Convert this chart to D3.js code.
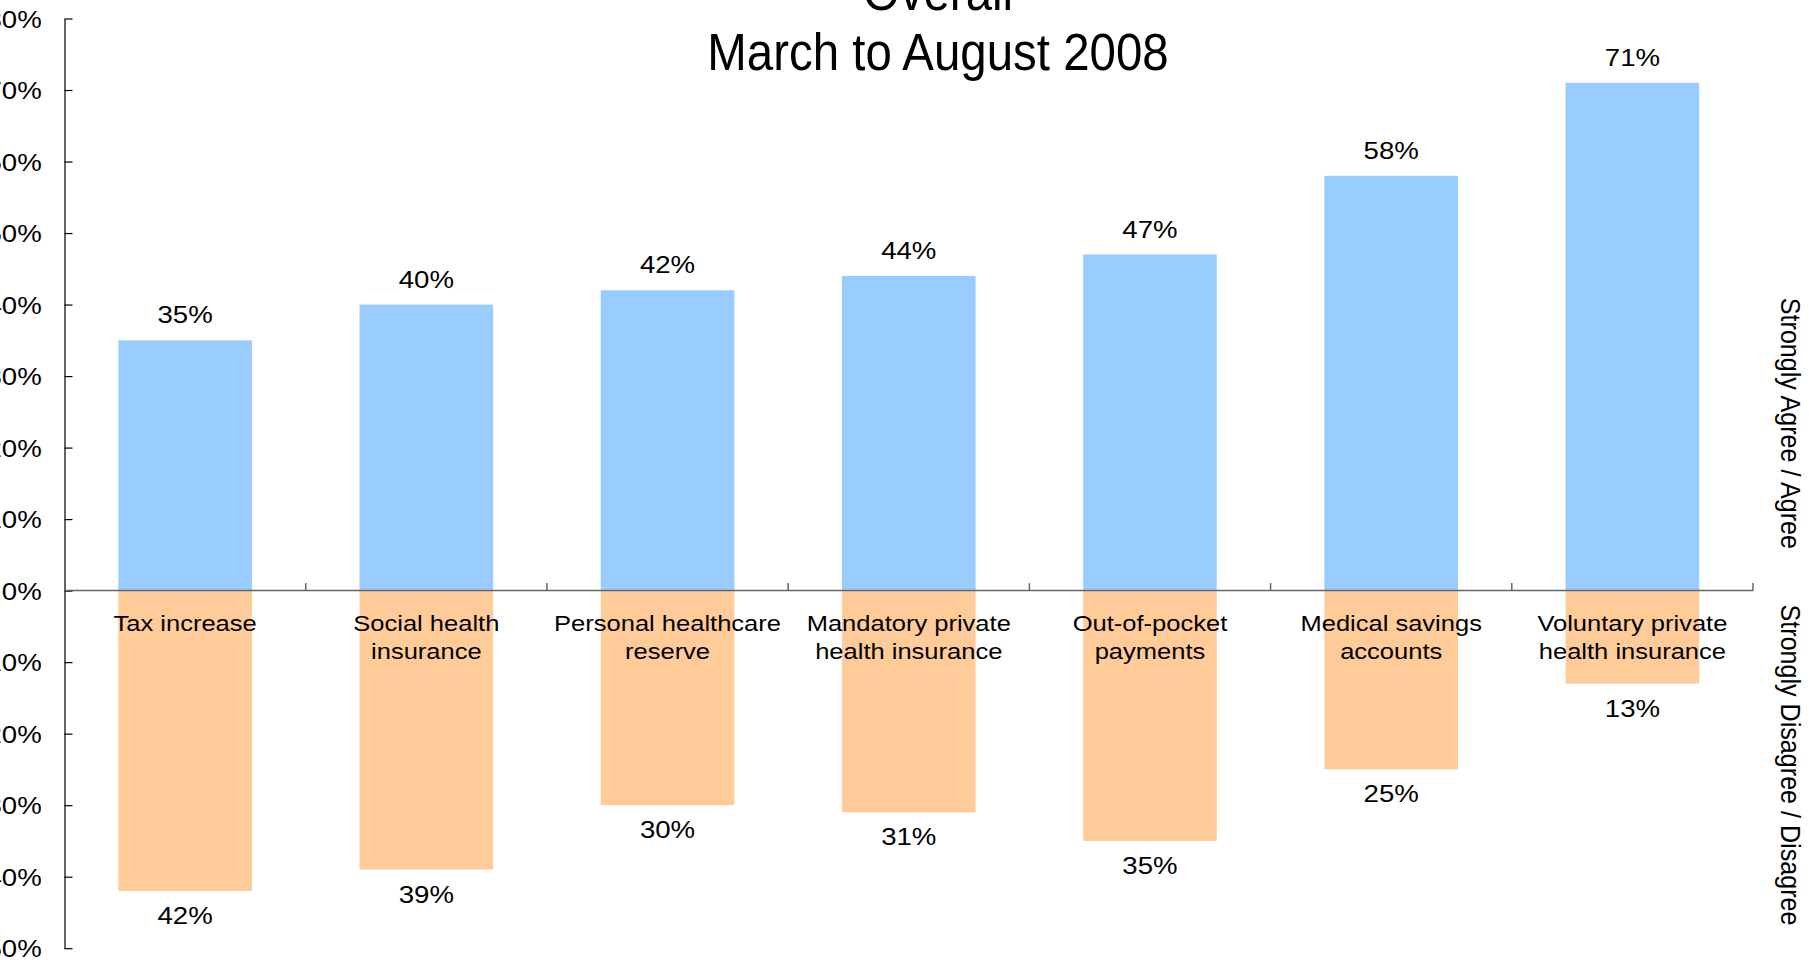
<!DOCTYPE html>
<html>
<head>
<meta charset="utf-8">
<script src="https://cdn.jsdelivr.net/npm/d3@7"></script>
<style>
	html, body { margin: 0; padding: 0; background: #fff; overflow: hidden; }
	#chart { width: 1809px; height: 960px; }
	text { font-family: 'Liberation Sans', Arial, sans-serif; fill: #000; }
</style>
</head>
<body>
<div id="chart"></div>
<script>
//data
const categories = [
	['Tax increase'],
	['Social health', 'insurance'],
	['Personal healthcare', 'reserve'],
	['Mandatory private', 'health insurance'],
	['Out-of-pocket', 'payments'],
	['Medical savings', 'accounts'],
	['Voluntary private', 'health insurance'],
];
const agreeValues = [35, 40, 42, 44, 47, 58, 71];
const disagreeValues = [42, 39, 30, 31, 35, 25, 13];
const yTicks = [-50, -40, -30, -20, -10, 0, 10, 20, 30, 40, 50, 60, 70, 80];
const titleLines = ['Overall', 'March to August 2008'];
const sideLabels = ['Strongly Agree / Agree', 'Strongly Disagree / Disagree'];

render();

function render() {
	let props = {
		width: 1809,
		height: 960,
		left: 64.5,
		right: 1753,
		top: 18.5,
		bottom: 948.2,
		agreeColor: '#99ccff',
		disagreeColor: '#ffcc99',
	};
	createVisualization(d3.select('#chart'), props);
}

function createVisualization(container, props) {
	let { width, height, left, right, top, bottom, agreeColor, disagreeColor } = props;

	const keys = categories.map((d) => d.join(' '));

	const x = d3
		.scaleBand()
		.domain(keys)
		.range([left, right])
		.paddingInner(0.446)
		.paddingOuter(0.223);

	const y = d3
		.scaleLinear()
		.domain([d3.min(yTicks), d3.max(yTicks)])
		.range([bottom, top]);

	const svg = container
		.append('svg')
		.attr('width', width)
		.attr('height', height);

	//bars
	svg.selectAll('.agree-bar')
		.data(agreeValues)
		.enter()
		.append('rect')
		.attr('class', 'agree-bar')
		.attr('x', (d, i) => x(keys[i]))
		.attr('y', (d) => y(d))
		.attr('width', x.bandwidth())
		.attr('height', (d) => y(0) - y(d))
		.style('fill', agreeColor);

	svg.selectAll('.disagree-bar')
		.data(disagreeValues)
		.enter()
		.append('rect')
		.attr('class', 'disagree-bar')
		.attr('x', (d, i) => x(keys[i]))
		.attr('y', y(0))
		.attr('width', x.bandwidth())
		.attr('height', (d) => y(-d) - y(0))
		.style('fill', disagreeColor);

	//y axis
	const yAxis = d3
		.axisLeft(y)
		.tickValues(yTicks)
		.tickSizeInner(-8)
		.tickSizeOuter(0)
		.tickPadding(0)
		.tickFormat((d) => Math.abs(d) + '%');

	const axisG = svg
		.append('g')
		.attr('class', 'y-axis')
		.attr('transform', translation(left, 0))
		.call(yAxis);
	axisG.select('.domain').style('stroke', '#000').style('stroke-width', 1.2);
	axisG.selectAll('.tick line').style('stroke', '#000').style('stroke-width', 1.2);
	axisG
		.selectAll('.tick text')
		.attr('x', -22.8 / 1.15)
		.attr('dy', '0.36em')
		.attr('transform', 'scale(1.15,1)')
		.style('font-size', '24px')
		.style('font-family', "'Liberation Sans', Arial, sans-serif")
		.style('fill', '#000');

	//zero line
	svg.append('line')
		.attr('x1', left)
		.attr('x2', right)
		.attr('y1', y(0))
		.attr('y2', y(0))
		.style('stroke', '#666')
		.style('stroke-width', 1.5);

	//category ticks
	const step = x.step();
	const halfGap = (step * x.paddingInner()) / 2;
	svg.selectAll('.cat-tick')
		.data(keys)
		.enter()
		.append('line')
		.attr('class', 'cat-tick')
		.attr('x1', (d) => x(d) + x.bandwidth() + halfGap)
		.attr('x2', (d) => x(d) + x.bandwidth() + halfGap)
		.attr('y1', y(0))
		.attr('y2', y(0) - 7.5)
		.style('stroke', '#666')
		.style('stroke-width', 1.5);

	//category labels
	categories.forEach((lines, i) => {
		const cx = x(keys[i]) + x.bandwidth() / 2;
		lines.forEach((line, j) => {
			svg.append('text')
				.attr('class', 'cat-label')
				.attr('transform', translation(cx, y(0) + 40.2 + j * 28) + ' scale(1.16,1)')
				.style('text-anchor', 'middle')
				.style('font-size', '22px')
				.text(line);
		});
	});

	//value labels
	svg.selectAll('.agree-text')
		.data(agreeValues)
		.enter()
		.append('text')
		.attr('class', 'agree-text')
		.attr('transform', (d, i) =>
			translation(x(keys[i]) + x.bandwidth() / 2, y(d) - 17) + ' scale(1.15,1)'
		)
		.style('text-anchor', 'middle')
		.style('font-size', '24px')
		.text((d) => d + '%');

	svg.selectAll('.disagree-text')
		.data(disagreeValues)
		.enter()
		.append('text')
		.attr('class', 'disagree-text')
		.attr('transform', (d, i) =>
			translation(x(keys[i]) + x.bandwidth() / 2, y(-d) + 33) + ' scale(1.15,1)'
		)
		.style('text-anchor', 'middle')
		.style('font-size', '24px')
		.text((d) => d + '%');

	//title
	titleLines.forEach((line, i) => {
		svg.append('text')
			.attr('class', 'title')
			.attr('transform', translation(938, 10 + i * 60) + ' scale(0.93,1)')
			.style('text-anchor', 'middle')
			.style('font-size', '51px')
			.text(line);
	});

	//side labels
	const sideCenters = [423.4, 765];
	sideLabels.forEach((label, i) => {
		svg.append('text')
			.attr('class', 'side-label')
			.attr('transform', translation(1780.7, sideCenters[i]) + ' rotate(90) scale(0.93,1)')
			.style('text-anchor', 'middle')
			.style('font-size', '27px')
			.text(label);
	});
}

//utils
function translation(x, y) {
	return `translate(${x}, ${y})`;
}
</script>
</body>
</html>
